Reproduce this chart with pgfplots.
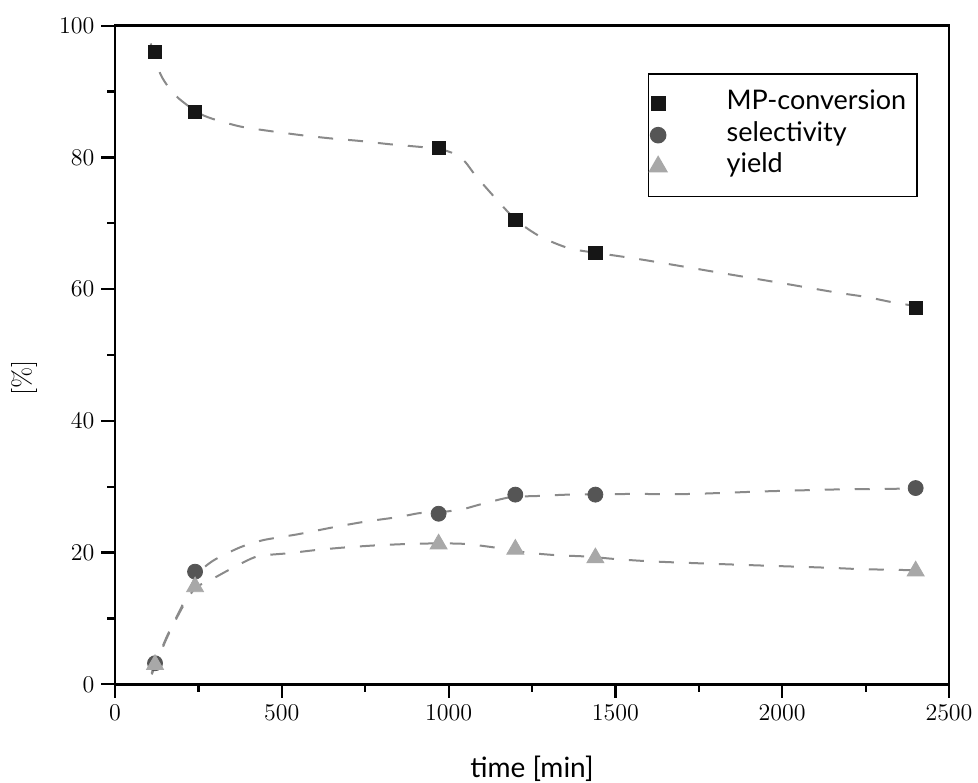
\documentclass[border=0pt]{standalone}
\usepackage{fontspec}
\usepackage{pgfplots}
\pgfplotsset{compat=1.18}
\newfontfamily\lato{Lato}
\definecolor{sqc}{HTML}{161616}
\definecolor{cic}{HTML}{555555}
\definecolor{trc}{HTML}{A8A8A8}
\definecolor{fitc}{HTML}{8A8A8A}
\begin{document}
\begin{tikzpicture}
\begin{axis}[
  scale only axis,
  width=417pt, height=329.3pt,
  xmin=0, xmax=2500, ymin=0, ymax=100,
  xtick={0,500,1000,1500,2000,2500},
  ytick={0,20,40,60,80,100},
  minor x tick num=1, minor y tick num=1,
  xtick pos=lower, ytick pos=lower,
  tick align=outside,
  major tick length=6.8pt, minor tick length=3.8pt,
  every tick/.style={black, line width=1.1pt},
  axis line style={line width=1.4pt, black},
  tick label style={font=\fontsize{13}{15}\selectfont},
  scaled x ticks=false,
  xticklabel style={/pgf/number format/set thousands separator={}},
  xlabel={time [min]},
  ylabel={[\%]},
  x label style={font=\lato\fontsize{14}{16}\selectfont, at={(axis description cs:0.5,-0.1408)}, anchor=base},
  y label style={font=\fontsize{13}{15}\selectfont, at={(axis description cs:-0.109,0.465)}, anchor=center},
  legend image post style={xshift=11pt},
  legend style={
    at={(rel axis cs:0.9628,0.928)}, anchor=north east,
    draw=black, line width=0.8pt,
    inner xsep=0.5pt, inner ysep=7pt,
    font=\lato\fontsize{13.5}{15}\selectfont,
    nodes={inner ysep=0pt, inner xsep=5pt, text height=11pt, text depth=4.75pt},
    row sep=0pt, column sep=25pt,
    legend cell align=left,
  },
]
% fitted dashed curves
\addplot[forget plot, color=fitc, line width=1pt, dash pattern=on 7.5pt off 7.5pt, smooth, tension=0.45, mark=none] coordinates {
 (107,97.3) (135,92.8) (160,90.7) (190,89.0) (245,86.9) (290,85.9) (375,84.7) (465,84.0) (555,83.4) (644,82.9) (734,82.5) (824,82.0) (914,81.6) (971,81.3) (1020,80.5) (1050,79.3) (1080,77.3) (1137,74.0) (1202,70.5) (1274,68.0) (1361,66.2) (1444,65.5) (1539,64.8) (1614,64.2) (1800,62.6) (2000,60.9) (2161,59.5) (2253,58.8) (2341,57.9) (2422,57.3)
};
\addplot[forget plot, color=fitc, line width=1pt, dash pattern=on 7.5pt off 7.5pt, smooth, tension=0.4, mark=none] coordinates {
 (110,1.7) (155,7.2) (200,11.8) (245,16.6) (295,18.8) (375,20.8) (445,21.9) (550,22.8) (650,23.8) (750,24.7) (850,25.4) (914,26.0) (971,26.1) (1043,26.6) (1094,27.3) (1184,28.4) (1271,28.6) (1361,28.8) (1544,28.9) (1724,28.9) (1950,29.3) (2173,29.6) (2263,29.65) (2353,29.7) (2420,29.8)
};
\addplot[forget plot, color=fitc, line width=1pt, dash pattern=on 7.5pt off 7.5pt, smooth, tension=0.4, mark=none] coordinates {
 (110,1.5) (155,7.0) (200,11.5) (240,14.6) (285,15.8) (350,17.6) (425,19.4) (520,19.9) (605,20.4) (694,20.8) (784,21.1) (874,21.3) (971,21.4) (1054,21.3) (1148,20.7) (1234,20.0) (1324,19.6) (1414,19.4) (1504,19.0) (1594,18.7) (1684,18.5) (1900,18.1) (2137,17.7) (2227,17.5) (2317,17.4) (2420,17.3)
};
% data points
\addplot[only marks, mark=square*, mark size=3.3pt, color=sqc, mark options={draw=sqc, fill=sqc}] coordinates {
 (120,96.0) (240,86.9) (970,81.4) (1200,70.5) (1440,65.5) (2400,57.1)
};
\addlegendentry{MP-conversion}
\addplot[only marks, mark=*, mark size=3.75pt, color=cic, mark options={draw=cic, fill=cic}] coordinates {
 (120,3.2) (240,17.1) (970,25.9) (1200,28.8) (1440,28.8) (2400,29.8)
};
\addlegendentry{selectivity}
\addplot[only marks, mark=triangle*, mark size=4.9pt, color=trc, mark options={draw=trc, fill=trc}] coordinates {
 (120,3.0) (240,14.8) (970,21.3) (1200,20.5) (1440,19.2) (2400,17.2)
};
\addlegendentry{yield}
\end{axis}
\pgfresetboundingbox
\path[use as bounding box] ([shift={(-57.5pt,-48.85pt)}]current axis.south west) rectangle ([shift={(14.5pt,12.85pt)}]current axis.north east);
\end{tikzpicture}
\end{document}
